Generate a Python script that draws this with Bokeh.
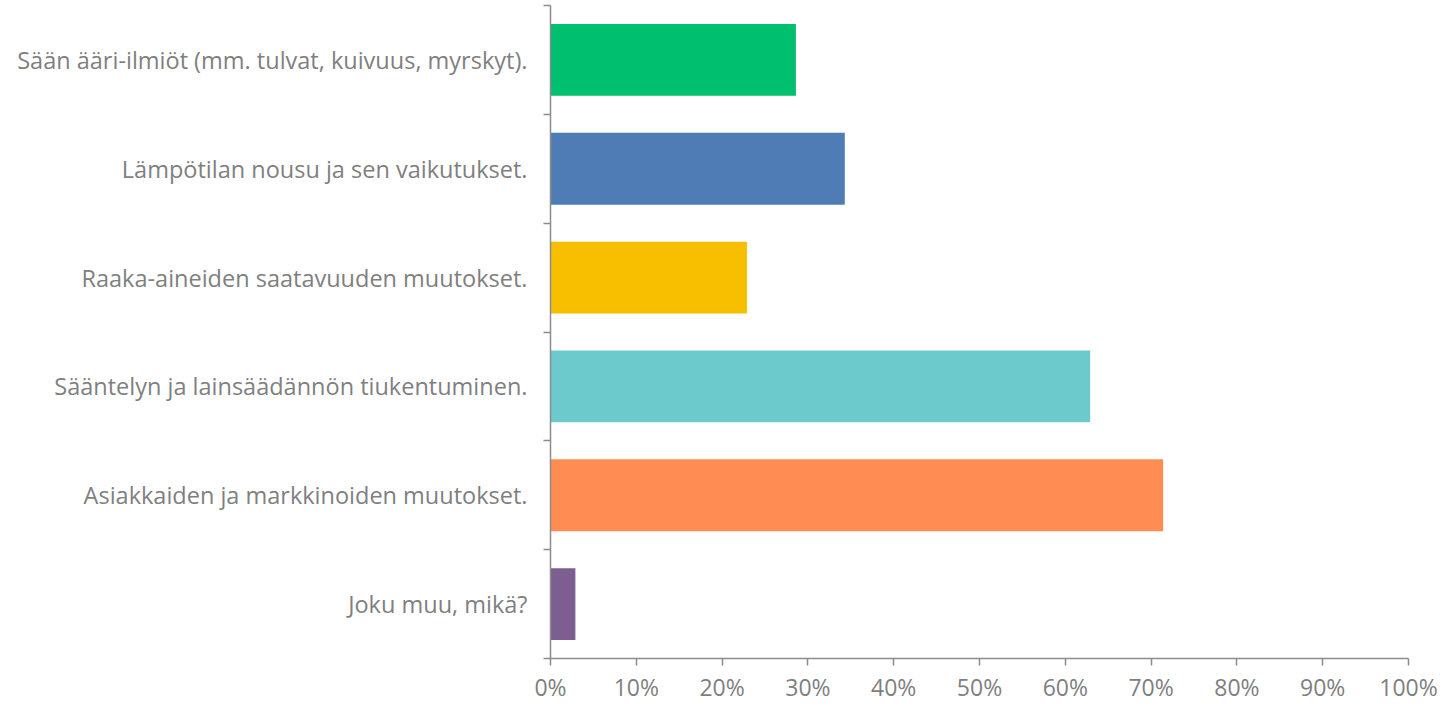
from bokeh.plotting import figure
from bokeh.models import FixedTicker, NumeralTickFormatter, Range1d
from bokeh.embed import file_html
from bokeh.resources import INLINE

categories = [
    "Sään ääri-ilmiöt (mm. tulvat, kuivuus, myrskyt).",
    "Lämpötilan nousu ja sen vaikutukset.",
    "Raaka-aineiden saatavuuden muutokset.",
    "Sääntelyn ja lainsäädännön tiukentuminen.",
    "Asiakkaiden ja markkinoiden muutokset.",
    "Joku muu, mikä?",
]
values = [0.286, 0.343, 0.229, 0.629, 0.714, 0.029]
colors = ["#00BF6F", "#507CB5", "#F8BE00", "#6CC9CC", "#FF8C52", "#7D5E91"]
x_ticks = [0.0, 0.1, 0.2, 0.3, 0.4, 0.5, 0.6, 0.7, 0.8, 0.9, 1.0]

n = len(categories)
ypos = [n - i - 0.5 for i in range(n)]

W, H = 1447, 705
p = figure(width=W, height=H, output_backend="svg", toolbar_location=None,
           x_range=Range1d(0, 1), y_range=Range1d(0, n),
           min_border_left=550, min_border_right=39, min_border_top=5,
           min_border_bottom=46)
p.outline_line_color = None
p.xgrid.grid_line_color = None
p.ygrid.grid_line_color = None

p.hbar(y=ypos, right=values, left=0, height=0.66, fill_color=colors,
       line_color=None)

axis_color = "#8C8C8C"
text_color = "#7F7F7F"
font = "Open Sans"

xa = p.xaxis[0]
xa.ticker = FixedTicker(ticks=x_ticks)
xa.formatter = NumeralTickFormatter(format="0%")
xa.axis_line_color = axis_color
xa.axis_line_width = 1.5
xa.major_tick_line_color = axis_color
xa.major_tick_line_width = 1.5
xa.major_tick_in = 0
xa.major_tick_out = 7
xa.minor_tick_line_color = None
xa.major_label_text_font = font
xa.major_label_text_font_size = "23px"
xa.major_label_text_color = text_color
xa.major_label_standoff = 5

ya = p.yaxis[0]
ya.ticker = FixedTicker(ticks=ypos, minor_ticks=list(range(n + 1)))
ya.major_label_overrides = {y: c for y, c in zip(ypos, categories)}
ya.axis_line_color = axis_color
ya.axis_line_width = 1.5
ya.major_tick_line_color = None
ya.major_tick_in = 0
ya.major_tick_out = 7
ya.minor_tick_line_color = axis_color
ya.minor_tick_line_width = 1.5
ya.minor_tick_in = 0
ya.minor_tick_out = 7
ya.major_label_text_font = font
ya.major_label_text_font_size = "23.5px"
ya.major_label_text_color = text_color
ya.major_label_standoff = 16

open("out.html", "w").write(file_html(p, INLINE))
